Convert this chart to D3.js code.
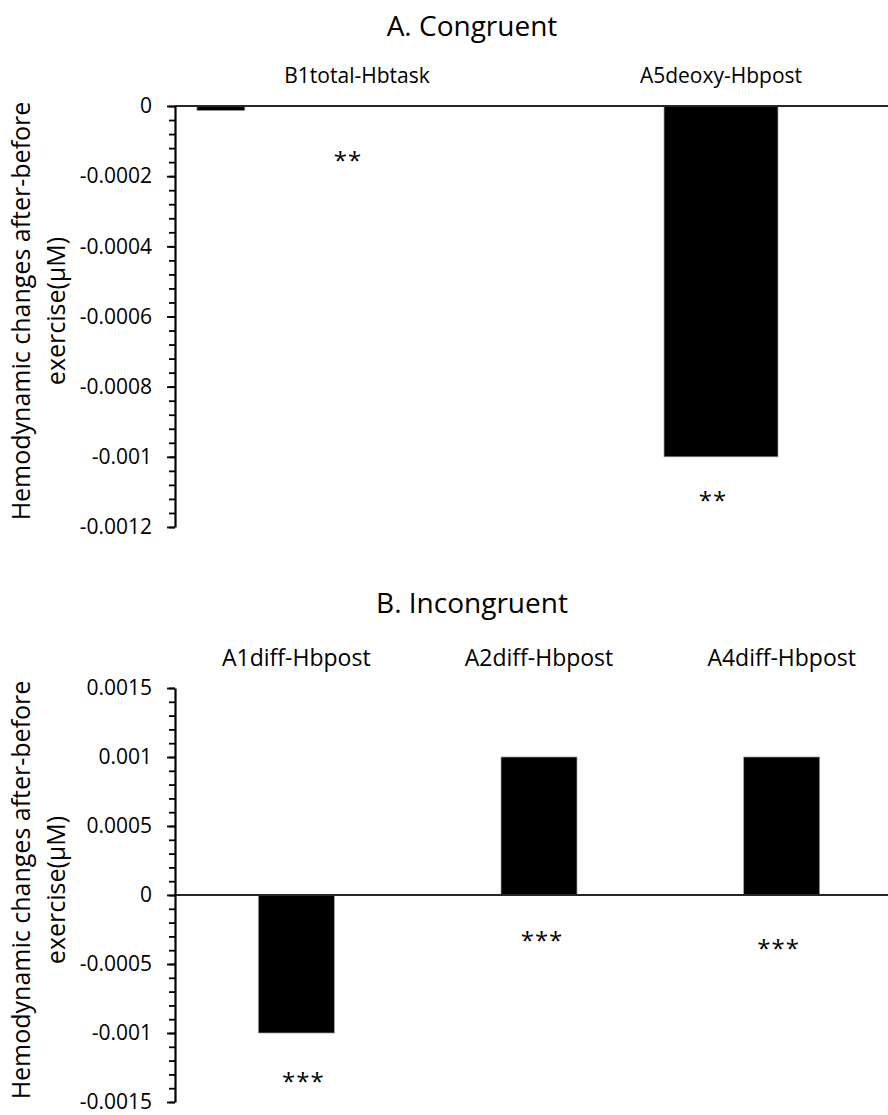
<!DOCTYPE html>
<html><head><meta charset="utf-8">
<script src="https://cdn.jsdelivr.net/npm/d3@7/dist/d3.min.js"></script>
<style>
html,body{margin:0;padding:0;background:#fff;}
svg{display:block;font-family:"Open Sans","Noto Sans",sans-serif;}
</style></head>
<body>
<svg id="chart" width="888" height="1115"></svg>
<script>
// ---- data ----
const titleA = "A. Congruent";
const titleB = "B. Incongruent";
const yTitle = ["Hemodynamic changes after-before", "exercise(μM)"];

const catsA = ["B1total-Hbtask", "A5deoxy-Hbpost"];
const valsA = [-0.000013, -0.001];
const sigA = ["**", "**"];
const ticksA = [0, -0.0002, -0.0004, -0.0006, -0.0008, -0.001, -0.0012];
const tickLabelsA = ["0", "-0.0002", "-0.0004", "-0.0006", "-0.0008", "-0.001", "-0.0012"];

const catsB = ["A1diff-Hbpost", "A2diff-Hbpost", "A4diff-Hbpost"];
const valsB = [-0.001, 0.001, 0.001];
const sigB = ["***", "***", "***"];
const ticksB = [0.0015, 0.001, 0.0005, 0, -0.0005, -0.001, -0.0015];
const tickLabelsB = ["0.0015", "0.001", "0.0005", "0", "-0.0005", "-0.001", "-0.0015"];

// ---- layout ----
const svg = d3.select("#chart");
const X0 = 175, X1 = 903;

function panel(opt) {
  const g = svg.append("g");
  const x = d3.scaleBand().domain(opt.cats).range([X0, X1]).paddingInner(0.687).paddingOuter(0.3435);
  const y = d3.scaleLinear().domain(opt.domain).range(opt.yRange);

  // title
  g.append("text").attr("x", 472).attr("y", opt.titleY).attr("text-anchor", "middle")
    .attr("font-size", 28).attr("fill", "#000").text(opt.title);

  // category labels
  g.selectAll(".cat").data(opt.cats).enter().append("text")
    .attr("x", d => x(d) + x.bandwidth() / 2).attr("y", opt.catY)
    .attr("text-anchor", "middle").attr("font-size", opt.catSize).attr("fill", "#000").text(d => d);

  // bars
  g.selectAll(".bar").data(opt.vals).enter().append("rect")
    .attr("x", (d, i) => {
      const w = x.bandwidth() * (opt.widthFrac[i]);
      return x(opt.cats[i]) + x.bandwidth() / 2 + opt.shift[i] * x.step() - w / 2;
    })
    .attr("width", (d, i) => x.bandwidth() * opt.widthFrac[i])
    .attr("y", d => y(Math.max(0, d)))
    .attr("height", d => Math.abs(y(d) - y(0)))
    .attr("fill", "#000").attr("stroke", "#9a9a9a").attr("stroke-width", 0.7);

  // x axis line at zero
  g.append("line").attr("x1", X0).attr("x2", X1).attr("y1", y(0)).attr("y2", y(0))
    .attr("stroke", "#262626").attr("stroke-width", 2);

  // y axis with minor ticks
  const minor = d3.range(opt.nMinor).map(i => opt.domain[0] + i * (opt.domain[1] - opt.domain[0]) / (opt.nMinor - 1));
  g.append("g").attr("transform", `translate(${X0},0)`)
    .call(d3.axisLeft(y).tickValues(minor).tickSize(6).tickFormat(""))
    .call(a => a.select(".domain").remove())
    .call(a => a.selectAll("line").attr("stroke", "#000").attr("stroke-width", 1.8));
  const ax = g.append("g").attr("transform", `translate(${X0},0)`)
    .call(d3.axisLeft(y).tickValues(opt.ticks).tickSize(8).tickSizeOuter(0).tickPadding(15)
      .tickFormat((d, i) => opt.tickLabels[i]));
  ax.select(".domain").attr("stroke", "#000").attr("stroke-width", 2.2);
  ax.selectAll("line").attr("stroke", "#000").attr("stroke-width", 1.8);
  ax.selectAll("text").attr("font-size", 21).attr("fill", "#000").attr("font-family", "'Open Sans',sans-serif");

  // significance marks
  const sigSize = 24;
  g.selectAll(".sig").data(opt.sig).enter().append("text")
    .attr("x", (d, i) => x(opt.cats[i]) + x.bandwidth() / 2 + opt.sigDx[i])
    .attr("y", (d, i) => y(Math.min(0, opt.vals[i])) + opt.sigDy[i] + 0.56 * sigSize)
    .attr("text-anchor", "middle")
    .attr("font-size", sigSize).attr("fill", "#000").attr("letter-spacing", 1).text(d => d);

  // y title
  const yt = g.append("text").attr("transform", `translate(0,${opt.yTitleMid}) rotate(-90)`)
    .attr("text-anchor", "middle").attr("font-size", 25).attr("fill", "#000");
  yt.append("tspan").attr("x", 0).attr("y", 30).text(yTitle[0]);
  yt.append("tspan").attr("x", 0).attr("y", 65).text(yTitle[1]);
}

panel({
  title: titleA, titleY: 36, cats: catsA, vals: valsA, sig: sigA,
  ticks: ticksA, tickLabels: tickLabelsA, domain: [-0.0012, 0], yRange: [527, 106], nMinor: 31,
  catY: 83, catSize: 21, widthFrac: [0.42, 1], shift: [-0.374, 0],
  sigDx: [-9, -8], sigDy: [45, 39], yTitleMid: 311
});
panel({
  title: titleB, titleY: 613, cats: catsB, vals: valsB, sig: sigB,
  ticks: ticksB, tickLabels: tickLabelsB, domain: [-0.0015, 0.0015], yRange: [1102, 688], nMinor: 31,
  catY: 666, catSize: 23, widthFrac: [1, 1, 1], shift: [0, 0, 0],
  sigDx: [7, 3, -3], sigDy: [44, 41, 49], yTitleMid: 890
});
</script>
</body></html>
